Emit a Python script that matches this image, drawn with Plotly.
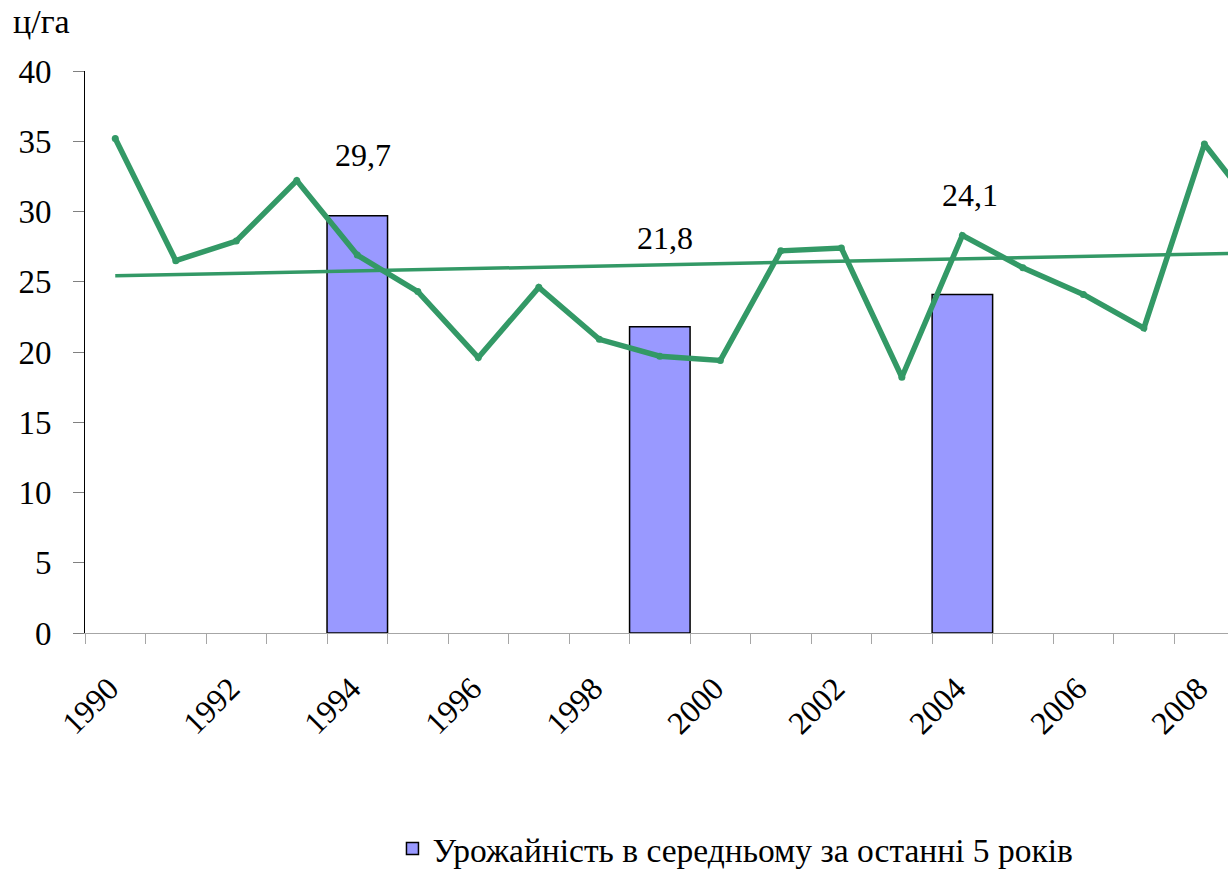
import plotly.graph_objects as go

# ---- data ----
years = list(range(1990, 2010))
yield_values = [35.2, 26.5, 27.9, 32.2, 26.9, 24.3, 19.6, 24.6, 20.9, 19.7,
                19.4, 27.2, 27.4, 18.2, 28.3, 26.0, 24.1, 21.7, 34.8, 29.3]
avg_years = [1994, 1999, 2004]
avg_values = [29.7, 21.8, 24.1]
trend_years = [1990, 2009]
trend_values = [25.43, 27.06]
tick_years = [1990, 1992, 1994, 1996, 1998, 2000, 2002, 2004, 2006, 2008]
legend_name = "Урожайність в середньому за останні 5 років"
unit_label = "ц/га"

# ---- style ----
FONT = "Liberation Serif, Times New Roman, serif"
GREEN = "#339966"
BAR = "#9999FF"
label_shift_x = [6, 5, 8]
label_shift_y = [61, 89, 99]

fig = go.Figure()

fig.add_trace(go.Bar(
    x=avg_years, y=avg_values, width=1.0,
    marker=dict(color=BAR, line=dict(color="black", width=1.5)),
    name=legend_name, showlegend=True,
))

fig.add_trace(go.Scatter(
    x=trend_years, y=trend_values, mode="lines",
    line=dict(color=GREEN, width=3.5), showlegend=False, hoverinfo="skip",
))

fig.add_trace(go.Scatter(
    x=years, y=yield_values, mode="lines+markers",
    line=dict(color=GREEN, width=5.5),
    marker=dict(color=GREEN, size=7),
    showlegend=False,
))

for yr, v, dx, dy in zip(avg_years, avg_values, label_shift_x, label_shift_y):
    fig.add_annotation(
        x=yr, y=v, text=f"{v:.1f}".replace(".", ","), showarrow=False,
        xshift=dx, yshift=dy, yanchor="middle", xanchor="center",
        font=dict(family=FONT, size=32, color="black"),
    )

fig.add_annotation(
    xref="paper", yref="paper", x=-0.065, y=1.088, text=unit_label,
    showarrow=False, xanchor="left", yanchor="middle",
    font=dict(family=FONT, size=34, color="black"),
)

fig.update_layout(
    width=1228, height=869,
    margin=dict(l=85, r=0, t=71, b=236, autoexpand=False),
    paper_bgcolor="white", plot_bgcolor="white",
    font=dict(family=FONT, size=32, color="black"),
    barmode="overlay",
    legend=dict(
        orientation="h", x=0.269, y=-0.384, xanchor="left", yanchor="middle",
        font=dict(family=FONT, size=33.5, color="black"),
        bgcolor="rgba(0,0,0,0)", borderwidth=0,
    ),
    xaxis=dict(
        range=[1989.5, 2008.39], automargin=False,
        tickmode="array", tickvals=tick_years,
        ticktext=[str(t) for t in tick_years],
        tickangle=-45, ticks="",
        ticklabelstandoff=23, ticklabelshift=-6,
        showline=True, linecolor="#a6a6a6", linewidth=1,
        showgrid=False, zeroline=False,
        tickfont=dict(family=FONT, size=32, color="black"),
        minor=dict(tickmode="linear", tick0=1989.5, dtick=1, ticks="outside",
                   ticklen=10, tickcolor="#a6a6a6", tickwidth=1, showgrid=False),
    ),
    yaxis=dict(
        range=[0, 40], tickmode="linear", tick0=0, dtick=5, automargin=False,
        ticks="outside", ticklen=11, tickcolor="#808080", tickwidth=1,
        showline=True, linecolor="black", linewidth=1,
        showgrid=False, zeroline=False,
        tickfont=dict(family=FONT, size=33, color="black"),
        ticklabelstandoff=15,
    ),
)

fig.write_html("out.html", config={"displayModeBar": False},
               post_script="document.body.style.margin='0';document.body.style.overflow='hidden';")
